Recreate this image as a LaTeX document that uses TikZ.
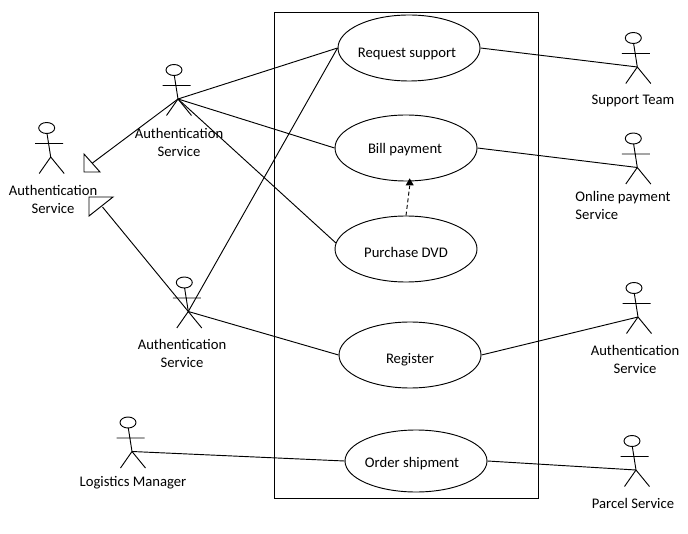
\documentclass[tikz,border=0pt]{standalone}
\usepackage{fontspec}
\setmainfont{Carlito}
\usetikzlibrary{shapes.geometric}

% #1 name of the hip point, #2 position of the hip
\newcommand{\actorman}[2]{
  \coordinate (#1) at (#2);
  \draw[shift={(#2)}] (-4,-29) ellipse (8 and 5.5)
        (-3.7,-23.5) -- (0,0) (-15.5,-13.5) -- (12.5,-13.5)
        (-11.5,16.5) -- (0,0) -- (13.5,16.5);
}

\begin{document}
\begin{tikzpicture}[x=0.75pt, y=-0.75pt, line width=0.7pt,
  ucase/.style={ellipse,draw,minimum width=106.5pt,minimum height=49.5pt,inner sep=0pt},
  actname/.style={align=center,font=\fontsize{11}{13.5}\selectfont,inner sep=0pt},
  casetext/.style={font=\fontsize{11}{13.5}\selectfont,inner sep=0pt},
  headtip/.style={fill=black,inner sep=0pt}]
\useasboundingbox (0,0) rectangle (688,534);

\draw (274,12) rectangle (538,498);

\node[ucase, label={[casetext,xshift=-1.5pt,yshift=-4.5pt]center:Request support}] (request) at (409,48) {};
\node[ucase, label={[casetext,xshift=-0.75pt,yshift=-1.5pt]center:Bill payment}] (bill) at (406,148) {};
\node[ucase, label={[casetext,yshift=-2.25pt]center:Purchase DVD}] (dvd) at (406,249) {};
\node[ucase, label={[casetext,yshift=-3.75pt]center:Register}] (register) at (410,355) {};
\node[ucase, minimum height=46.5pt, label={[casetext,xshift=-3pt,yshift=-2.25pt]center:Order shipment}] (order) at (416,461) {};

\actorman{admina}{50.7,157}
\actorman{adminb}{178,99}
\actorman{adminc}{188.3,311.5}
\actorman{logistics}{132,451.5}
\actorman{support}{637.3,67}
\actorman{online}{637.3,167.5}
\actorman{auth}{638,317}
\actorman{parcel}{636,470}

\node[actname] (adminalabel) at (53,199) {Authentication\\Service};
\node[actname] (adminblabel) at (179,142) {Authentication\\Service};
\node[actname] (adminclabel) at (182,353) {Authentication\\Service};
\node[actname] (logisticslabel) at (133,483) {Logistics Manager};
\node[actname] (supportlabel) at (633,101) {Support Team};
\node[actname,align=left,anchor=west] (onlinelabel) at (575,205) {Online payment\\Service};
\node[actname] (authlabel) at (635,359) {Authentication\\Service};
\node[actname] (parcellabel) at (633,503) {Parcel Service};

% generalisation triangles
\draw (84,154) -- (84,172) -- (100,172) -- cycle;
\draw (89,216) -- (89,197) -- (113,197) -- cycle;
\coordinate (tria) at (92.5,163);
\coordinate (trib) at (102.5,207);
\draw (adminb) -- (tria);
\draw (adminc) -- (trib);

\draw (adminb) -- (request.west);
\draw (adminb) -- (bill.west);
\draw (adminb) -- (dvd.175);
\draw (adminc) -- (request.west);
\draw (adminc) -- (register.west);
\draw (logistics) -- (order.west);
\draw (request.east) -- (support);
\draw (bill.east) -- (online);
\draw (register.east) -- (auth);
\draw (order.east) -- (parcel);

\node[headtip,regular polygon,regular polygon sides=3,minimum size=7pt] (headbill) at (409.7,183) {};
\draw[densely dashed] (dvd.north) -- (headbill.south);
\end{tikzpicture}
\end{document}
